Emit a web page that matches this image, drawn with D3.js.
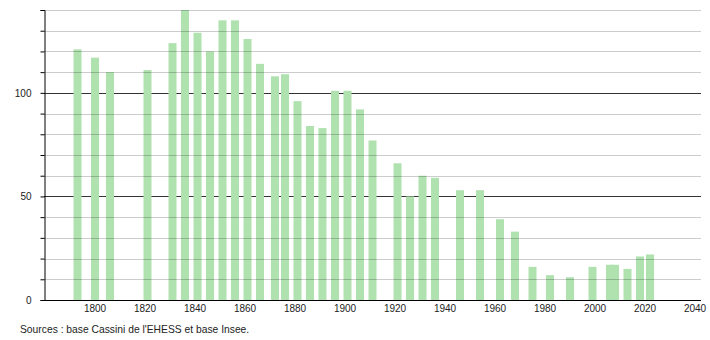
<!DOCTYPE html>
<html><head><meta charset="utf-8">
<script src="https://cdn.jsdelivr.net/npm/d3@7"></script>
<style>body{margin:0;background:#fff}svg{display:block}text{font-family:"Liberation Sans",Arial,sans-serif}</style>
</head><body><svg id="c" width="710" height="340"></svg>
<script>
const years = [1793,1800,1806,1821,1831,1836,1841,1846,1851,1856,1861,1866,1872,1876,1881,1886,1891,1896,1901,1906,1911,1921,1926,1931,1936,1946,1954,1962,1968,1975,1982,1990,1999,2006,2008,2013,2018,2022];
const population = [121,117,110,111,124,140,129,120,135,135,126,114,108,109,96,84,83,101,101,92,77,66,50,60,59,53,53,39,33,16,12,11,16,17,17,15,21,22];
const xTicks = [1800,1820,1840,1860,1880,1900,1920,1940,1960,1980,2000,2020,2040];
const yLabels = [0,50,100];
const yGrid = d3.range(10,141,10);
const source = "Sources : base Cassini de l'EHESS et base Insee.";

const svg = d3.select("#c");
const x = d3.scaleLinear().domain([1780,2040]).range([45,695]);
const y = d3.scaleLinear().domain([0,140]).range([300,10]);
const left = 44, right = 701;

// major grid (behind bars)
svg.append("g").selectAll("line").data(yGrid.filter(d=>d%50===0)).join("line")
  .attr("x1",left).attr("x2",right)
  .attr("y1",d=>Math.round(y(d))+0.5).attr("y2",d=>Math.round(y(d))+0.5)
  .attr("stroke","#333").attr("stroke-width",1);

// bars
svg.append("g").selectAll("rect").data(years).join("rect")
  .attr("x",(d)=>x(d)-4).attr("width",8)
  .attr("y",(d,i)=>y(population[i])).attr("height",(d,i)=>y(0)-y(population[i]))
  .attr("fill","#afe2af");

// minor grid (over bars, semi-transparent)
svg.append("g").selectAll("line").data(yGrid.filter(d=>d%50!==0)).join("line")
  .attr("x1",left).attr("x2",right)
  .attr("y1",d=>Math.round(y(d))+0.5).attr("y2",d=>Math.round(y(d))+0.5)
  .attr("stroke","#000").attr("stroke-opacity",0.2).attr("stroke-width",1);

// y axis
const ya = svg.append("g").attr("transform",`translate(${left+0.5},0)`)
  .call(d3.axisLeft(y).tickValues(d3.range(0,141,10)).tickSize(4).tickFormat(d=>yLabels.includes(d)?d:""));
ya.select(".domain").attr("stroke","#000");
ya.selectAll(".tick line").attr("stroke","#000");
ya.selectAll("text").attr("font-size",10).attr("fill","#222").attr("x",-13);

// x axis
svg.append("line").attr("x1",left).attr("x2",right).attr("y1",300.5).attr("y2",300.5).attr("stroke","#000");
svg.append("g").selectAll("text").data(xTicks).join("text")
  .attr("x",d=>x(d)).attr("y",311.5).attr("text-anchor","middle")
  .attr("font-size",10).attr("fill","#222").text(d=>d);

svg.append("text").attr("x",20).attr("y",332.5).attr("font-size",10.3).attr("fill","#222").text(source);
</script></body></html>
